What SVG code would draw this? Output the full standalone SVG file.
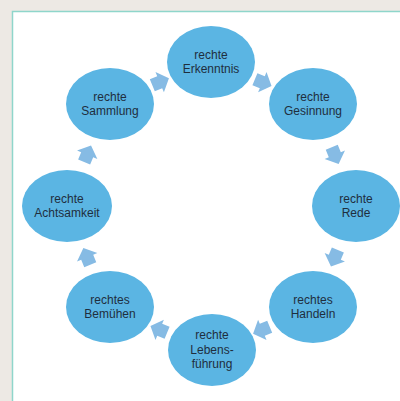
<svg xmlns="http://www.w3.org/2000/svg" width="400" height="401" viewBox="0 0 400 401">
<defs>
<style>
.node ellipse{fill:#5bb5e3;}
.node text{font-family:"Liberation Sans","Open Sans",sans-serif;font-size:12px;fill:#1f2e3e;text-anchor:middle;}
.arr{fill:#86bbe4;}
</style>
<polygon id="ar" points="-8,-6.5 0,-6.5 0,-11 10,0 0,11 0,6.5 -8,6.5"/>
</defs>
<rect x="0" y="0" width="400" height="401" fill="#ede9e4"/>
<rect x="12.5" y="11.5" width="400" height="400" fill="#ffffff" stroke="#8fd6cb" stroke-width="1.5"/>
<g id="connectors" class="arr">
<use href="#ar" transform="translate(159.7,82.2) rotate(-22.5)"/>
<use href="#ar" transform="translate(262.3,82.2) rotate(22.5)"/>
<use href="#ar" transform="translate(334.8,154.7) rotate(67.5)"/>
<use href="#ar" transform="translate(334.8,257.3) rotate(112.5)"/>
<use href="#ar" transform="translate(262.3,329.8) rotate(157.5)"/>
<use href="#ar" transform="translate(159.7,329.8) rotate(202.5)"/>
<use href="#ar" transform="translate(87.2,257.3) rotate(247.5)"/>
<use href="#ar" transform="translate(87.2,154.7) rotate(292.5)"/>
</g>
<g id="erkenntnis" class="node"><ellipse cx="211" cy="62" rx="44" ry="36"/><text x="211" y="59">rechte</text><text x="211" y="73">Erkenntnis</text></g>
<g id="gesinnung" class="node"><ellipse cx="313" cy="104" rx="44" ry="36"/><text x="313" y="101">rechte</text><text x="313" y="115">Gesinnung</text></g>
<g id="rede" class="node"><ellipse cx="356" cy="206" rx="44" ry="36"/><text x="356" y="203">rechte</text><text x="356" y="217">Rede</text></g>
<g id="handeln" class="node"><ellipse cx="313" cy="307" rx="44" ry="36"/><text x="313" y="304">rechtes</text><text x="313" y="318">Handeln</text></g>
<g id="lebensfuehrung" class="node"><ellipse cx="212" cy="350" rx="44" ry="36"/><text x="212" y="339">rechte</text><text x="212" y="353.5">Lebens-</text><text x="212" y="368">führung</text></g>
<g id="bemuehen" class="node"><ellipse cx="110" cy="307" rx="44" ry="36"/><text x="110" y="304">rechtes</text><text x="110" y="318">Bemühen</text></g>
<g id="achtsamkeit" class="node"><ellipse cx="67" cy="206" rx="45" ry="36"/><text x="67" y="203">rechte</text><text x="67" y="217">Achtsamkeit</text></g>
<g id="sammlung" class="node"><ellipse cx="110" cy="104" rx="44" ry="36"/><text x="110" y="101">rechte</text><text x="110" y="115">Sammlung</text></g>
</svg>
